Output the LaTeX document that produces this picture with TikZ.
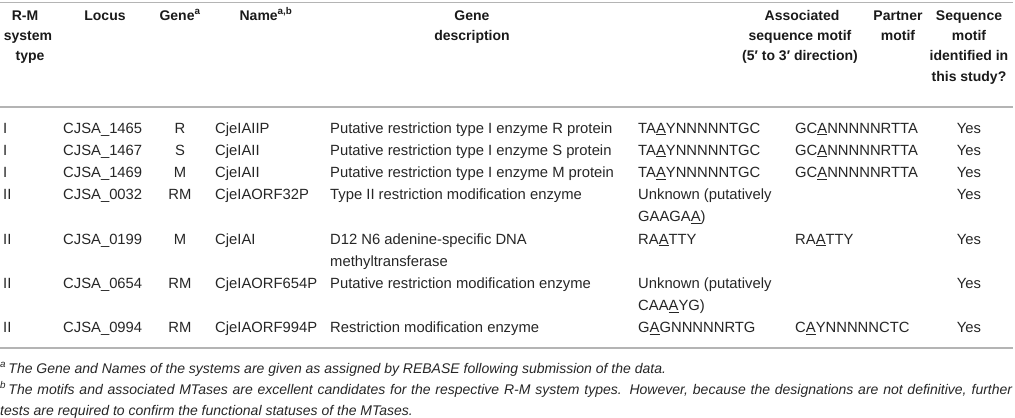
\documentclass[tikz,border=0pt]{standalone}
\usepackage{fontspec}
\setmainfont{Liberation Sans}
\definecolor{rulec}{HTML}{B4B4B4}
\definecolor{txt}{HTML}{262626}
\definecolor{htxt}{HTML}{1A1A1A}
\newcommand\ulA{\underline{A}}
\newcommand\trow[9]{%
 \node[cell] (r#1a) at (3,#2) {#3};
 \node[cell] (r#1b) at (63,#2) {#4};
 \node[ccell] (r#1c) at (180,#2) {#5};
 \node[cell] (r#1d) at (215,#2) {#6};
 \node[cell] (r#1e) at (330,#2) {#7};
 \node[cell] (r#1f) at (638,#2) {#8};
 \node[cell] (r#1g) at (795,#2) {#9};
 \node[ccell] (r#1h) at (969,#2) {Yes};}
\tikzset{
 cell/.style={anchor=base west, inner sep=0pt, text=txt, font=\fontsize{14.8bp}{17bp}\selectfont},
 ccell/.style={cell, anchor=base},
 hd/.style={anchor=base, inner sep=0pt, text=htxt, font=\bfseries\fontsize{14bp}{16bp}\selectfont},
 fn/.style={anchor=base west, inner sep=0pt, text=txt, font=\itshape\fontsize{14bp}{16bp}\selectfont},
 hrule/.style={draw=rulec, line width=1.6bp}
}
\begin{document}
\begin{tikzpicture}[x=1bp,y=-1bp]
\useasboundingbox (0,0) rectangle (1015,417);
% rules
\coordinate (t0) at (0,2.5); \coordinate (t1) at (1013,2.5);
\coordinate (m0) at (0,107); \coordinate (m1) at (1013,107);
\coordinate (b0) at (0,348); \coordinate (b1) at (1013,348);
\draw[hrule] (t0) -- (t1);
\draw[hrule] (m0) -- (m1);
\draw[hrule] (b0) -- (b1);
% header
\node[hd] (h1a) at (25,20) {R-M};
\node[hd] (h1b) at (28,40) {system};
\node[hd] (h1c) at (30,60) {type};
\node[hd] (h2) at (105,20) {Locus};
\node[hd] (h3) at (180,20) {Gene\textsuperscript{a}};
\node[hd] (h4) at (266,20) {Name\textsuperscript{a,b}};
\node[hd] (h5a) at (472,20) {Gene};
\node[hd] (h5b) at (472,40) {description};
\node[hd] (h6a) at (802,20) {Associated};
\node[hd] (h6b) at (800,40) {sequence motif};
\node[hd] (h6c) at (800,60) {(5′ to 3′ direction)};
\node[hd] (h7a) at (898,20) {Partner};
\node[hd] (h7b) at (898,40) {motif};
\node[hd] (h8a) at (969,20) {Sequence};
\node[hd] (h8b) at (969,40) {motif};
\node[hd] (h8c) at (969,60) {identified in};
\node[hd] (h8d) at (969,81) {this study?};
% body
\trow{1}{133}{I}{CJSA\_1465}{R}{CjeIAIIP}{Putative restriction type I enzyme R protein}{TA\ulA YNNNNNTGC}{GC\ulA NNNNNRTTA}
\trow{2}{155.2}{I}{CJSA\_1467}{S}{CjeIAII}{Putative restriction type I enzyme S protein}{TA\ulA YNNNNNTGC}{GC\ulA NNNNNRTTA}
\trow{3}{177.4}{I}{CJSA\_1469}{M}{CjeIAII}{Putative restriction type I enzyme M protein}{TA\ulA YNNNNNTGC}{GC\ulA NNNNNRTTA}
\trow{4}{199.6}{II}{CJSA\_0032}{RM}{CjeIAORF32P}{Type II restriction modification enzyme}{Unknown (putatively}{}
\node[cell] (r4f2) at (638,221.8) {GAAGA\ulA)};
\trow{5}{244}{II}{CJSA\_0199}{M}{CjeIAI}{D12 N6 adenine-specific DNA}{RA\ulA TTY}{RA\ulA TTY}
\node[cell] (r5e2) at (330,266.2) {methyltransferase};
\trow{6}{288.4}{II}{CJSA\_0654}{RM}{CjeIAORF654P}{Putative restriction modification enzyme}{Unknown (putatively}{}
\node[cell] (r6f2) at (638,310.6) {CAA\ulA YG)};
\trow{7}{332.8}{II}{CJSA\_0994}{RM}{CjeIAORF994P}{Restriction modification enzyme}{G\ulA GNNNNNRTG}{C\ulA YNNNNNCTC}
% footnotes
\node[fn] (f1) at (0,373) {\textsuperscript{a}\,The Gene and Names of the systems are given as assigned by REBASE following submission of the data.};
\node[fn] (f2) at (0,394) {\makebox[1012bp][s]{\textsuperscript{b}\,The motifs and associated MTases are excellent candidates for the respective R-M system types. However, because the designations are not definitive, further}};
\node[fn] (f3) at (0,415) {tests are required to confirm the functional statuses of the MTases.};
\end{tikzpicture}
\end{document}
